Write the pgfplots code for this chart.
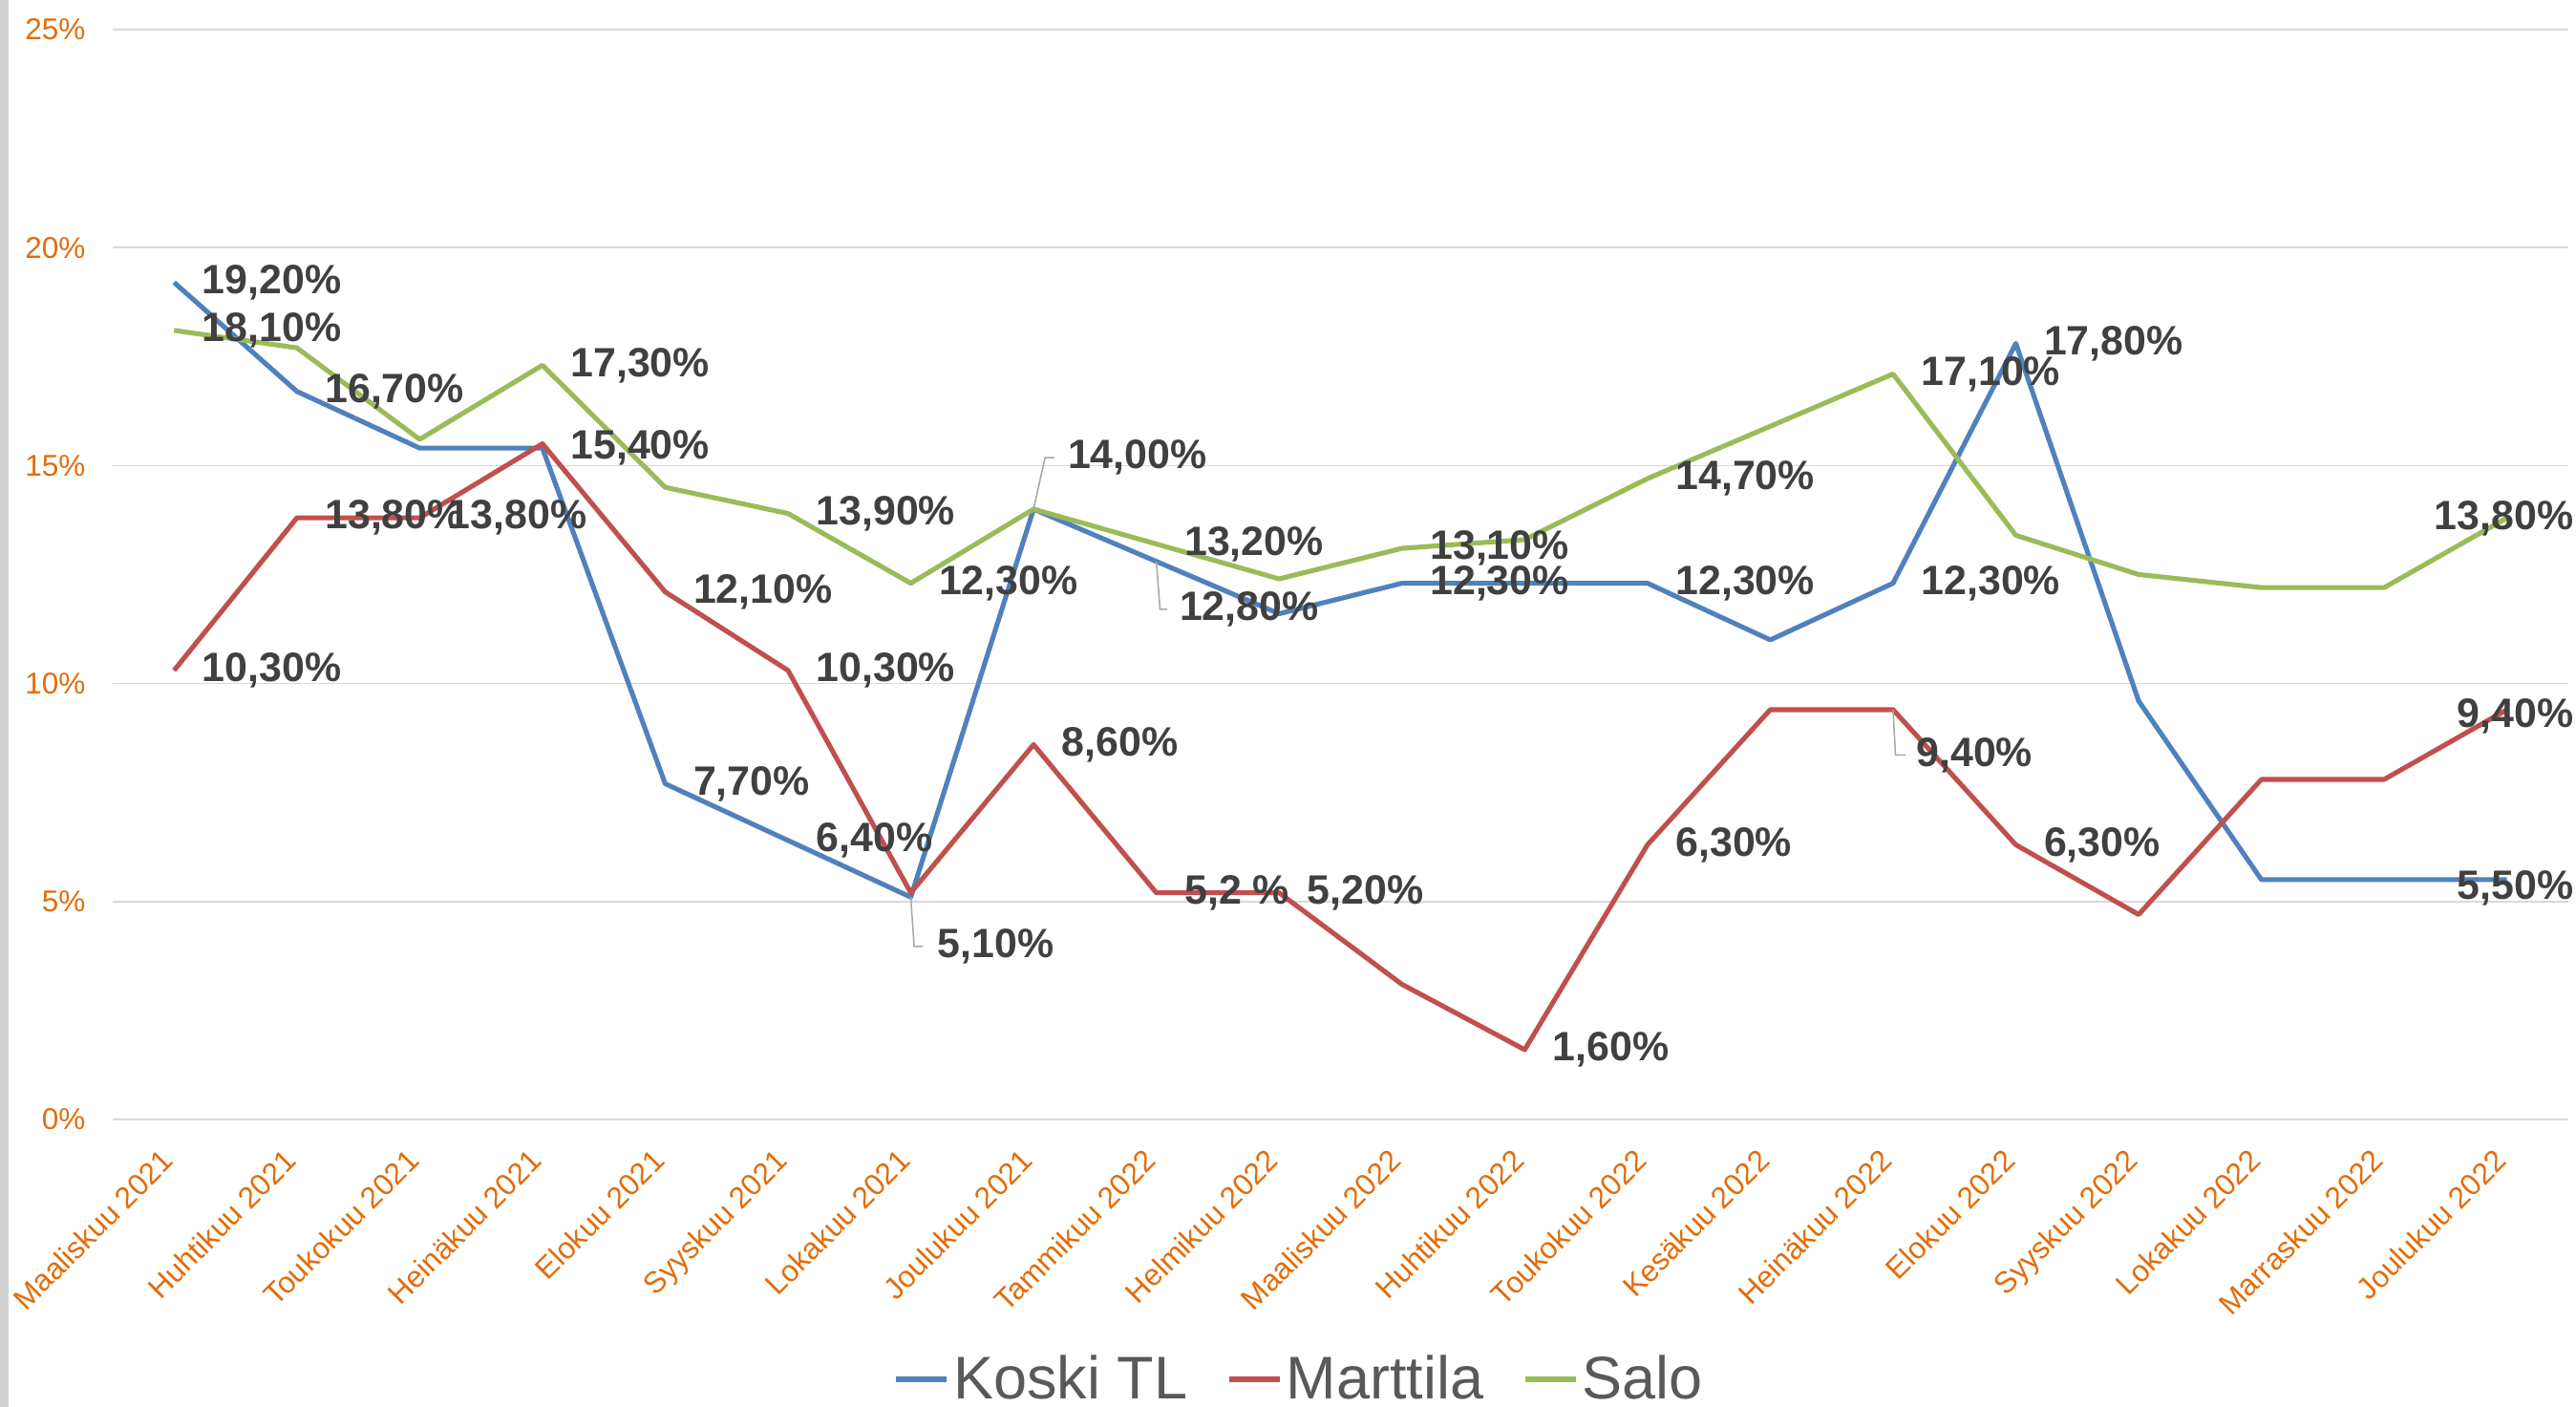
\documentclass[border=0pt]{standalone}
\usepackage{fontspec}
\setmainfont{Liberation Sans}
\usepackage{pgfplots}
\pgfplotsset{compat=1.18}
\usetikzlibrary{calc}

\definecolor{kblue}{HTML}{4F81BD}
\definecolor{mred}{HTML}{C0504D}
\definecolor{sgreen}{HTML}{9BBB59}
\definecolor{tickor}{HTML}{E36C09}
\definecolor{lblgray}{HTML}{404040}
\definecolor{leggray}{HTML}{595959}
\definecolor{gridgray}{HTML}{D9D9D9}
\definecolor{leadgray}{HTML}{A6A6A6}
\definecolor{edgegray}{HTML}{D0D0D0}

\pgfplotsset{
  lblbase/.style={draw=none, mark=none, forget plot, nodes near coords,
    point meta=explicit symbolic,
    every node near coord/.append style={inner sep=0pt,
      font=\fontsize{14.3}{17}\selectfont\bfseries, text=lblgray}},
  lbl/.style={lblbase, every node near coord/.append style={anchor=west, xshift=9pt}},
  lbl0/.style={lblbase, every node near coord/.append style={anchor=west}},
  lblR/.style={lblbase, every node near coord/.append style={anchor=east}},
  leader/.style={forget plot, mark=none, leadgray, line width=0.5pt},
}

\begin{document}
\begin{tikzpicture}
\begin{axis}[
  name=ax, at={(0,0)}, anchor=south west,
  scale only axis, width=857pt, height=380.33pt,
  xmin=-0.5, xmax=19.5, ymin=0, ymax=25,
  clip=false,
  axis line style={draw=none},
  tick style={draw=none}, major tick length=0pt,
  ymajorgrids, grid style={gridgray, line width=0.5pt},
  ytick={0,5,10,15,20,25},
  yticklabels={0\%,5\%,10\%,15\%,20\%,25\%},
  xtick={0,...,19},
  xticklabels={Maaliskuu 2021, Huhtikuu 2021, Toukokuu 2021, Heinäkuu 2021,
    Elokuu 2021, Syyskuu 2021, Lokakuu 2021, Joulukuu 2021, Tammikuu 2022,
    Helmikuu 2022, Maaliskuu 2022, Huhtikuu 2022, Toukokuu 2022, Kesäkuu 2022,
    Heinäkuu 2022, Elokuu 2022, Syyskuu 2022, Lokakuu 2022, Marraskuu 2022,
    Joulukuu 2022},
  tick label style={font=\fontsize{10.5}{12}\selectfont, text=tickor},
  yticklabel style={anchor=east, inner sep=0pt, xshift=-9.3pt},
  xticklabel style={xshift=-5pt, yshift=-9.5pt, rotate=45, anchor=north east, inner sep=0pt},
  legend columns=-1,
  legend style={at={(0.4836,-0.2384)}, anchor=center, draw=none, fill=none,
    font=\fontsize{21}{25}\selectfont, text=leggray,
    cells={anchor=west}, nodes={inner sep=1.5pt},
    /tikz/every even column/.append style={column sep=12pt}},
  legend image code/.code={\draw[line width=1.8pt] (0pt,0pt) -- (17.7pt,0pt);},
  every axis plot/.append style={line width=1.7pt, line join=round},
]
% Koski TL
\addplot[kblue, mark=none] coordinates {
  (0,19.2) (1,16.7) (2,15.4) (3,15.4) (4,7.7) (5,6.4) (6,5.1) (7,14.0)
  (8,12.8) (9,11.6) (10,12.3) (11,12.3) (12,12.3) (13,11.0) (14,12.3)
  (15,17.8) (16,9.6) (17,5.5) (18,5.5) (19,5.5)};
% Marttila
\addplot[mred, mark=none] coordinates {
  (0,10.3) (1,13.8) (2,13.8) (3,15.5) (4,12.1) (5,10.3) (6,5.2) (7,8.6)
  (8,5.2) (9,5.2) (10,3.1) (11,1.6) (12,6.3) (13,9.4) (14,9.4)
  (15,6.3) (16,4.7) (17,7.8) (18,7.8) (19,9.4)};
% Salo
\addplot[sgreen, mark=none] coordinates {
  (0,18.1) (1,17.7) (2,15.6) (3,17.3) (4,14.5) (5,13.9) (6,12.3) (7,14.0)
  (8,13.2) (9,12.4) (10,13.1) (11,13.3) (12,14.7) (13,15.9) (14,17.1)
  (15,13.4) (16,12.5) (17,12.2) (18,12.2) (19,13.8)};
\legend{Koski TL, Marttila, Salo}

% leader lines
\addplot[leader] coordinates {(6,5.1) (6.027,3.97) (6.097,3.97)};
\addplot[leader] coordinates {(7,14.0) (7.093,15.18) (7.17,15.18)};
\addplot[leader] coordinates {(8,12.8) (8.03,11.70) (8.09,11.70)};
\addplot[leader] coordinates {(14,9.4) (14.02,8.36) (14.1,8.36)};

% data labels, Koski TL
\addplot[lbl] coordinates {
  (0,19.2) [19,20\%] (1,16.7) [16,70\%] (3,15.4) [15,40\%] (4,7.7) [7,70\%]
  (5,6.4) [6,40\%] (10,12.3) [12,30\%] (12,12.3) [12,30\%] (14,12.3) [12,30\%]
  (15,17.8) [17,80\%]};
\addplot[lbl0] coordinates {
  (6.198,3.97) [5,10\%] (7.26,15.18) [14,00\%] (8.17,11.70) [12,80\%]};
\addplot[lblR] coordinates {(19.56,5.3) [5,50\%]};
% data labels, Marttila
\addplot[lbl] coordinates {
  (0,10.3) [10,30\%] (1,13.8) [13,80\%] (2,13.8) [13,80\%] (4,12.1) [12,10\%]
  (5,10.3) [10,30\%] (7,8.6) [8,60\%] (8,5.2) [5,2 \%] (9,5.2) [5,20\%]
  (11,1.6) [1,60\%] (12,6.3) [6,30\%] (15,6.3) [6,30\%]};
\addplot[lbl0] coordinates {(14.17,8.36) [9,40\%]};
\addplot[lblR] coordinates {(19.56,9.25) [9,40\%]};
% data labels, Salo
\addplot[lbl] coordinates {
  (0,18.1) [18,10\%] (3,17.3) [17,30\%] (5,13.9) [13,90\%] (6,12.3) [12,30\%]
  (8,13.2) [13,20\%] (10,13.1) [13,10\%] (12,14.7) [14,70\%] (14,17.1) [17,10\%]};
\addplot[lblR] coordinates {(19.56,13.78) [13,80\%]};
\end{axis}
\pgfresetboundingbox
\path[use as bounding box] ($(ax.south west)+(-39.33pt,-100.33pt)$) rectangle ($(ax.north east)+(2.67pt,10.33pt)$);
\fill[edgegray] ($(ax.south west)+(-39.33pt,-100.33pt)$) rectangle ($(ax.north west)+(-36.33pt,10.33pt)$);
\end{tikzpicture}
\end{document}
